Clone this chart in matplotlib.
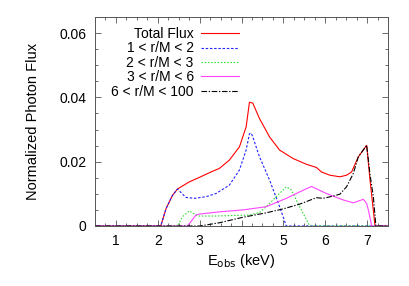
import matplotlib
matplotlib.use('Agg')
import matplotlib.pyplot as plt
from matplotlib.ticker import MultipleLocator

plt.rcParams['font.family'] = ['Liberation Sans', 'DejaVu Sans']

# Energies (keV) and normalized photon flux
total_e = [0.5, 2.07, 2.2, 2.35, 2.47, 2.75, 2.99, 3.27, 3.47, 3.71, 3.95, 4.11, 4.19,
           4.27, 4.43, 4.67, 4.91, 5.23, 5.55, 5.79, 5.91, 6.11, 6.35, 6.51, 6.63,
           6.79, 6.99, 7.07, 7.19, 7.5]
total_f = [0.0, 0.0, 0.0055, 0.0095, 0.0115, 0.0137, 0.0151, 0.0168, 0.0179, 0.0205,
           0.0246, 0.0308, 0.0385, 0.0382, 0.0334, 0.0277, 0.0236, 0.0210, 0.0192,
           0.0182, 0.0168, 0.0158, 0.0153, 0.0158, 0.0168, 0.0215, 0.0251, 0.0143,
           0.0, 0.0]

r12_e = [0.5, 2.07, 2.2, 2.35, 2.47, 2.67, 2.87, 3.15, 3.39, 3.71, 3.95, 4.11, 4.19,
         4.23, 4.27, 4.43, 4.67, 4.91, 5.07, 7.5]
r12_f = [0.0, 0.0, 0.0055, 0.0095, 0.0115, 0.0089, 0.0086, 0.0091, 0.0101, 0.0127,
         0.0174, 0.0236, 0.0287, 0.0289, 0.0277, 0.0215, 0.0143, 0.0060, 0.0, 0.0]

r23_e = [0.5, 2.47, 2.6, 2.75, 2.95, 3.39, 3.9, 4.19, 4.43, 4.59, 4.83, 5.07, 5.19,
         5.39, 5.63, 7.5]
r23_f = [0.0, 0.0, 0.0030, 0.0047, 0.0031, 0.0031, 0.0033, 0.0034, 0.0042, 0.0060,
         0.0091, 0.0122, 0.0112, 0.0060, 0.0, 0.0]

r36_e = [0.5, 2.71, 2.91, 2.99, 3.47, 4.03, 4.59, 5.07, 5.39, 5.67, 6.03, 6.43, 6.67,
         6.91, 6.99, 7.03, 7.11, 7.5]
r36_f = [0.0, 0.0, 0.0034, 0.0037, 0.0044, 0.0050, 0.0060, 0.0086, 0.0106, 0.0123,
         0.0101, 0.0081, 0.0072, 0.0083, 0.0070, 0.0050, 0.0, 0.0]

r6100_e = [0.5, 3.0, 3.47, 4.03, 4.59, 4.99, 5.39, 5.79, 5.95, 6.19, 6.35, 6.51, 6.67,
           6.79, 6.99, 7.07, 7.15, 7.21, 7.5]
r6100_f = [0.0, 0.0, 0.0010, 0.0027, 0.0041, 0.0053, 0.0068, 0.0088, 0.0086, 0.0093,
           0.0099, 0.0122, 0.0163, 0.0215, 0.0251, 0.0160, 0.0090, 0.0, 0.0]

labels = ['Total Flux', '1 < r/M < 2', '2 < r/M < 3', '3 < r/M < 6', '6 < r/M < 100']

fig = plt.figure(figsize=(4.09, 2.86), dpi=100)
ax = fig.add_axes([0.2323, 0.2098, 0.7164, 0.7308])

ax.plot(total_e, total_f, color='#ff0000', lw=0.8, label=labels[0])
ax.plot(r12_e, r12_f, color='#2222ff', lw=0.8, ls=(0, (2.2, 1.6)), label=labels[1])
ax.plot(r23_e, r23_f, color='#22dd22', lw=0.8, ls=(0, (1.3, 1.6)), label=labels[2])
ax.plot(r36_e, r36_f, color='#ff44ff', lw=0.8, label=labels[3])
ax.plot(r6100_e, r6100_f, color='#000000', lw=0.8, ls=(0, (5, 1.5, 1.2, 1.5)),
        label=labels[4])

ax.set_xlim(0.5, 7.5)
ax.set_ylim(0, 0.065)
ax.xaxis.set_major_locator(MultipleLocator(1))
ax.xaxis.set_minor_locator(MultipleLocator(0.25))
ax.yaxis.set_major_locator(MultipleLocator(0.02))
ax.yaxis.set_minor_locator(MultipleLocator(0.005))
ax.set_yticks([0, 0.02, 0.04, 0.06])
ax.set_yticklabels(['0', '0.02', '0.04', '0.06'])
ax.tick_params(which='both', direction='in', top=True, right=True, labelsize=10,
               width=0.6, color='#555555')
ax.tick_params(which='major', length=4, pad=6)
ax.tick_params(which='minor', length=2)
for s in ax.spines.values():
    s.set_linewidth(0.7)
    s.set_color('#555555')

ax.set_xlabel(r'E$_{\mathrm{obs}}$ (keV)', fontsize=10.5, labelpad=3)
ax.set_ylabel('Normalized Photon Flux', fontsize=10.5, labelpad=14)

leg = ax.legend(loc='upper right', bbox_to_anchor=(0.493, 0.952), frameon=False,
                fontsize=10, markerfirst=False, handlelength=2.75,
                labelspacing=0.03, handletextpad=0.55, borderaxespad=0,
                borderpad=0)
for t in leg.get_texts():
    t.set_ha('right')

fig.savefig('out.png', dpi=100)
